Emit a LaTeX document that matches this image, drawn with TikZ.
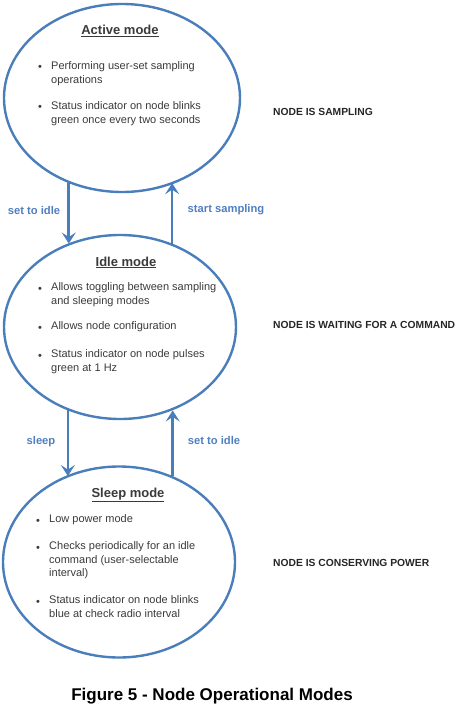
\documentclass[tikz,border=0pt]{standalone}
\usepackage{fontspec}
\setmainfont{Liberation Sans}
\usetikzlibrary{shapes.geometric,arrows.meta,calc}
\definecolor{ringblue}{HTML}{4A7EBB}
\definecolor{labblue}{HTML}{4F7FC0}
\definecolor{bodygray}{HTML}{3A3A3A}
\tikzset{
  x=1pt,y=-1pt,
  modering/.style={draw=ringblue,line width=2.4pt,ellipse,inner sep=0pt},
  title/.style={font=\fontsize{13}{15}\selectfont\bfseries,text=bodygray,anchor=base},
  bl/.style={font=\fontsize{11}{13.4}\selectfont,text=bodygray,anchor=north west,align=left,inner sep=0pt},
  dot/.style={font=\fontsize{11}{13.4}\selectfont,text=bodygray,anchor=base west,inner sep=0pt},
  trans/.style={draw=ringblue,line width=2.6pt,-{Stealth[length=11pt,width=14pt,inset=4.5pt]}},
  tlabel/.style={font=\fontsize{11.2}{13}\selectfont\bfseries,text=labblue,anchor=base},
  state/.style={font=\fontsize{10.3}{12}\selectfont\bfseries,text=black!85,anchor=base west,inner sep=0pt},
}
\begin{document}
\begin{tikzpicture}
\useasboundingbox (0,0) rectangle (464,708);
% ellipses
\node[modering,minimum width=236pt,minimum height=188pt] (act) at (122,98) {};
\node[modering,minimum width=232pt,minimum height=184pt] (idle) at (120,327) {};
\node[modering,minimum width=232pt,minimum height=191pt] (slp) at (119,562) {};
% arrows
\draw[trans] (act.238) -- (act.238 |- idle.122);
\draw[trans] (idle.58) -- (idle.58 |- act.302);
\draw[trans] (idle.238) -- (idle.238 |- slp.122);
\draw[trans] (slp.58) -- (slp.58 |- idle.302);
% transition labels
\node[tlabel] (l1) at (34,215) {set to idle};
\node[tlabel] (l2) at (226,213) {start sampling};
\node[tlabel] (l3) at (41,444) {sleep};
\node[tlabel] (l4) at (214,444) {set to idle};
% active
\node[title] (t1) at (120,35) {\underline{Active mode}};
\node[dot] (d11) at (38,71) {•};
\node[bl] (b11) at (51,61.6) {Performing user-set sampling\\operations};
\node[dot] (d12) at (38,111) {•};
\node[bl] (b12) at (51,101.6) {Status indicator on node blinks\\green once every two seconds};
% idle
\node[title] (t2) at (126,266) {\underline{Idle mode}};
\node[dot] (d21) at (38,292) {•};
\node[bl] (b21) at (51,282.6) {Allows toggling between sampling\\and sleeping modes};
\node[dot] (d22) at (38,331) {•};
\node[bl] (b22) at (51,321.6) {Allows node configuration};
\node[dot] (d23) at (38,359) {•};
\node[bl] (b23) at (51,349.6) {Status indicator on node pulses\\green at 1 Hz};
% sleep
\node[title] (t3) at (128,497) {\underline{Sleep mode}};
\node[dot] (d31) at (36,524) {•};
\node[bl] (b31) at (49,514.6) {Low power mode};
\node[dot] (d32) at (36,551) {•};
\node[bl] (b32) at (49,541.6) {Checks periodically for an idle\\command (user-selectable\\interval)};
\node[dot] (d33) at (36,605) {•};
\node[bl] (b33) at (49,595.6) {Status indicator on node blinks\\blue at check radio interval};
% state labels
\node[state] (s1) at (273,116) {NODE IS SAMPLING};
\node[state] (s2) at (273,328) {NODE IS WAITING FOR A COMMAND};
\node[state] (s3) at (273,566) {NODE IS CONSERVING POWER};
% caption
\node[font=\fontsize{17}{19}\selectfont\bfseries,anchor=base] (cap) at (212,700) {Figure 5 - Node Operational Modes};
\end{tikzpicture}
\end{document}
